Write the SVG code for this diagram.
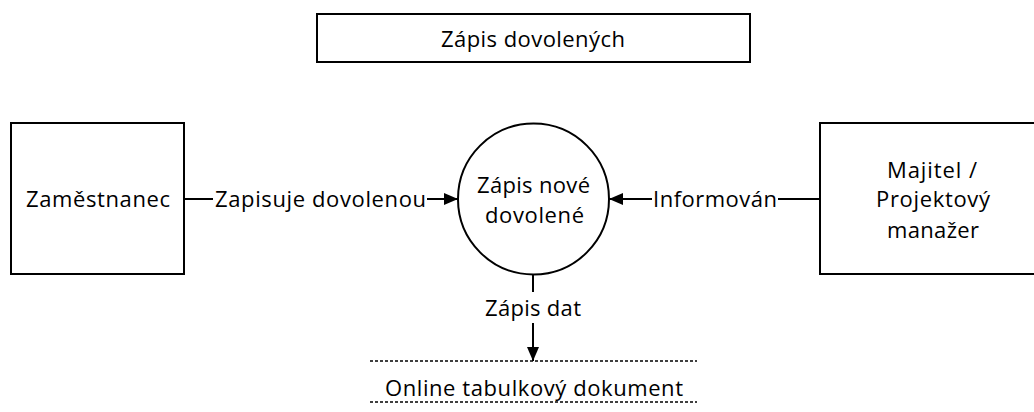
<svg xmlns="http://www.w3.org/2000/svg" width="1034" height="412" viewBox="0 0 1034 412">
  <style>
    .box { fill: #ffffff; stroke: #000000; stroke-width: 2; }
    .line { fill: none; stroke: #000000; stroke-width: 2; }
    .dash { fill: none; stroke: #000000; stroke-width: 1.6; stroke-dasharray: 3 2; }
    .t { font-family: "Open Sans", "Liberation Sans", sans-serif; font-size: 22px; fill: #000000; }
  </style>
  <defs>
    <marker id="arrow" markerUnits="userSpaceOnUse" markerWidth="14" markerHeight="12" refX="14" refY="6" orient="auto">
      <path d="M0,0 L14,6 L0,12 z" fill="#000000"/>
    </marker>
  </defs>
  <rect x="0" y="0" width="1034" height="412" fill="#ffffff"/>

  <g id="title">
    <rect class="box" x="317" y="14" width="433" height="48"/>
    <text class="t" x="441" y="47" textLength="184" lengthAdjust="spacing">Zápis dovolených</text>
  </g>

  <g id="zamestnanec">
    <rect class="box" x="11" y="123" width="173" height="151"/>
    <text class="t" x="26" y="207" textLength="144" lengthAdjust="spacing">Zaměstnanec</text>
  </g>

  <g id="zapis-nove-dovolene">
    <circle class="box" cx="533.5" cy="199" r="75.5"/>
    <text class="t" x="477" y="193" textLength="113" lengthAdjust="spacing">Zápis nové</text>
    <text class="t" x="485" y="223" textLength="99" lengthAdjust="spacing">dovolené</text>
  </g>

  <g id="majitel">
    <rect class="box" x="820" y="123" width="228" height="151"/>
    <text class="t" x="887" y="178" textLength="90" lengthAdjust="spacing">Majitel /</text>
    <text class="t" x="876" y="207" textLength="114" lengthAdjust="spacing">Projektový</text>
    <text class="t" x="887" y="238" textLength="92" lengthAdjust="spacing">manažer</text>
  </g>

  <g id="datastore">
    <line class="dash" x1="370" y1="361" x2="697" y2="361"/>
    <line class="dash" x1="370" y1="402" x2="697" y2="402"/>
    <text class="t" x="385" y="396" textLength="298" lengthAdjust="spacing">Online tabulkový dokument</text>
  </g>

  <g id="connectors">
    <line class="line" x1="184" y1="199" x2="213" y2="199"/>
    <text class="t" x="215" y="207" textLength="211" lengthAdjust="spacing">Zapisuje dovolenou</text>
    <line class="line" x1="427" y1="199" x2="458" y2="199" marker-end="url(#arrow)"/>

    <line class="line" x1="820" y1="199" x2="778" y2="199"/>
    <text class="t" x="653" y="207" textLength="124" lengthAdjust="spacing">Informován</text>
    <line class="line" x1="652" y1="199" x2="609" y2="199" marker-end="url(#arrow)"/>

    <line class="line" x1="533" y1="274.5" x2="533" y2="292"/>
    <text class="t" x="485" y="316" textLength="96" lengthAdjust="spacing">Zápis dat</text>
    <line class="line" x1="533" y1="323" x2="533" y2="361" marker-end="url(#arrow)"/>
  </g>
</svg>
